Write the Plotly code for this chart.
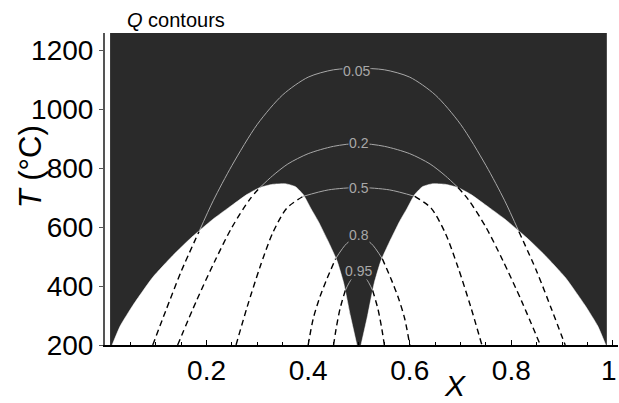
import plotly.graph_objects as go

# ---- white (two-phase / disordered) domes ----
dome_left_x = [0.014, 0.03, 0.055, 0.094, 0.134, 0.17, 0.213, 0.25, 0.28, 0.305, 0.33, 0.355, 0.375,
               0.39, 0.405, 0.42, 0.44, 0.457, 0.47, 0.483, 0.496]
dome_left_T = [200, 265, 335, 430, 505, 565, 628, 675, 712, 735, 746, 748, 738,
               712, 665, 620, 550, 485, 410, 300, 200]
dome_right_x = [0.504, 0.517, 0.53, 0.543, 0.56, 0.58, 0.595, 0.61, 0.625, 0.645, 0.67, 0.695,
                0.72, 0.75, 0.787, 0.83, 0.866, 0.906, 0.945, 0.97, 0.986]
dome_right_T = [200, 300, 410, 485, 550, 620, 665, 712, 738, 748, 746, 735,
                712, 675, 628, 565, 505, 430, 335, 265, 200]

# ---- Q contours: dashed part (left), solid part (over dark), dashed part (right) ----
q_labels = ["0.05", "0.2", "0.5", "0.8", "0.95"]
q_label_x = [0.495, 0.5, 0.5, 0.5, 0.5]
q_label_T = [1132, 885, 733, 575, 450]

q005_dl_x = [0.094, 0.12, 0.15, 0.185]
q005_dl_T = [200, 318, 450, 585]
q005_s_x = [0.185, 0.213, 0.25, 0.3, 0.35, 0.4, 0.45, 0.5, 0.55, 0.6, 0.65, 0.7, 0.75, 0.787, 0.815]
q005_s_T = [585, 690, 810, 950, 1050, 1110, 1135, 1140, 1135, 1110, 1050, 950, 810, 690, 585]
q005_dr_x = [0.815, 0.85, 0.88, 0.906]
q005_dr_T = [585, 450, 318, 200]

q02_dl_x = [0.143, 0.18, 0.217, 0.25, 0.285, 0.305]
q02_dl_T = [200, 350, 488, 600, 695, 735]
q02_s_x = [0.305, 0.33, 0.36, 0.4, 0.45, 0.5, 0.55, 0.6, 0.64, 0.67, 0.695]
q02_s_T = [735, 775, 815, 850, 875, 885, 875, 850, 815, 775, 735]
q02_dr_x = [0.695, 0.715, 0.75, 0.783, 0.82, 0.857]
q02_dr_T = [735, 695, 600, 488, 350, 200]

q05_dl_x = [0.258, 0.28, 0.305, 0.33, 0.358, 0.39]
q05_dl_T = [200, 330, 464, 580, 665, 705]
q05_s_x = [0.39, 0.44, 0.5, 0.56, 0.61]
q05_s_T = [705, 727, 735, 727, 705]
q05_dr_x = [0.61, 0.642, 0.67, 0.695, 0.72, 0.742]
q05_dr_T = [705, 665, 580, 464, 330, 200]

q08_dl_x = [0.400, 0.41, 0.423, 0.437, 0.454]
q08_dl_T = [200, 290, 363, 425, 493]
q08_s_x = [0.454, 0.476, 0.5, 0.524, 0.546]
q08_s_T = [493, 545, 568, 545, 493]
q08_dr_x = [0.546, 0.563, 0.577, 0.59, 0.600]
q08_dr_T = [493, 425, 363, 290, 200]

q095_dl_x = [0.45, 0.456, 0.463, 0.473]
q095_dl_T = [200, 265, 325, 385]
q095_s_x = [0.473, 0.486, 0.5, 0.514, 0.527]
q095_s_T = [385, 425, 438, 425, 385]
q095_dr_x = [0.527, 0.537, 0.544, 0.55]
q095_dr_T = [385, 325, 265, 200]

x_tickvals = [0.2, 0.4, 0.6, 0.8, 1.0]
x_ticktext = ["0.2", "0.4", "0.6", "0.8", ""]   # the "1" label is placed flush with the right edge
x_last_label = "1"
y_tickvals = [200, 400, 600, 800, 1000, 1200]

DARK = "#2a2a2a"
GRAY = "#a8a8a8"
FONT = "Liberation Sans"

fig = go.Figure()

for dx, dT in [(dome_left_x, dome_left_T), (dome_right_x, dome_right_T)]:
    fig.add_trace(go.Scatter(x=dx, y=dT, mode="lines", fill="toself", fillcolor="white",
                             line=dict(color="white", width=0.5, shape="spline", smoothing=0.5),
                             hoverinfo="skip", showlegend=False))

solid_parts = [(q005_s_x, q005_s_T), (q02_s_x, q02_s_T), (q05_s_x, q05_s_T),
               (q08_s_x, q08_s_T), (q095_s_x, q095_s_T)]
dashed_parts = [(q005_dl_x, q005_dl_T), (q005_dr_x, q005_dr_T),
                (q02_dl_x, q02_dl_T), (q02_dr_x, q02_dr_T),
                (q05_dl_x, q05_dl_T), (q05_dr_x, q05_dr_T),
                (q08_dl_x, q08_dl_T), (q08_dr_x, q08_dr_T),
                (q095_dl_x, q095_dl_T), (q095_dr_x, q095_dr_T)]

for sx, sT in solid_parts:
    fig.add_trace(go.Scatter(x=sx, y=sT, mode="lines",
                             line=dict(color=GRAY, width=1, shape="spline", smoothing=0.8),
                             hoverinfo="skip", showlegend=False))
for sx, sT in dashed_parts:
    fig.add_trace(go.Scatter(x=sx, y=sT, mode="lines",
                             line=dict(color="black", width=1.4, dash="6px,4px",
                                       shape="spline", smoothing=0.8),
                             hoverinfo="skip", showlegend=False))

annotations = []
for lab, lx, lT in zip(q_labels, q_label_x, q_label_T):
    annotations.append(dict(x=lx, y=lT, xref="x", yref="y", text=lab, showarrow=False,
                            font=dict(family=FONT, size=14, color=GRAY),
                            bgcolor=DARK, borderpad=0))

annotations += [
    dict(x=0.039, y=1.042, xref="paper", yref="paper", text="<i>Q</i> contours",
         showarrow=False, xanchor="left", yanchor="middle",
         font=dict(family=FONT, size=20, color="black")),
    dict(x=-0.146, y=0.57, xref="paper", yref="paper", text="<i>T</i> (°C)",
         showarrow=False, textangle=-90, xanchor="center", yanchor="middle",
         font=dict(family=FONT, size=31, color="black")),
    dict(x=0.689, y=-0.131, xref="x", yref="paper", text="<i>X</i>",
         showarrow=False, xanchor="center", yanchor="middle",
         font=dict(family=FONT, size=30, color="black")),
    dict(x=1.0, y=-0.082, xref="paper", yref="paper", text=x_last_label,
         showarrow=False, xanchor="right", yanchor="middle", borderpad=0,
         font=dict(family=FONT, size=28, color="black")),
]

fig.update_layout(
    width=619, height=403,
    margin=dict(l=105, r=1, t=33, b=58, autoexpand=False),
    paper_bgcolor="white", plot_bgcolor="white",
    shapes=[dict(type="rect", xref="x", yref="y", x0=0.01, x1=0.988, y0=200, y1=1260,
                 fillcolor=DARK, line=dict(width=0), layer="below")],
    annotations=annotations,
    showlegend=False,
)
fig.update_xaxes(range=[0, 1.01], automargin=False, showgrid=False, zeroline=False, showline=True,
                 linecolor="black", linewidth=1.5, ticks="inside", ticklen=5, tickcolor="black",
                 tickvals=x_tickvals, ticktext=x_ticktext,
                 minor=dict(ticks="inside", ticklen=3, dtick=0.05, tick0=0, tickcolor="black"),
                 tickfont=dict(family=FONT, size=28, color="black"))
fig.update_yaxes(range=[200, 1260], automargin=False, showgrid=False, zeroline=False, showline=True,
                 linecolor="#555555", linewidth=2, ticks="outside", ticklen=4, tickcolor="#555555",
                 tickvals=y_tickvals,
                 tickfont=dict(family=FONT, size=28, color="black"))

# remove the default page margin so the 619x403 figure fills the window exactly
fig.write_html("out.html", config={"displayModeBar": False},
               post_script="document.body.style.margin='0px';document.body.style.overflow='hidden';")
